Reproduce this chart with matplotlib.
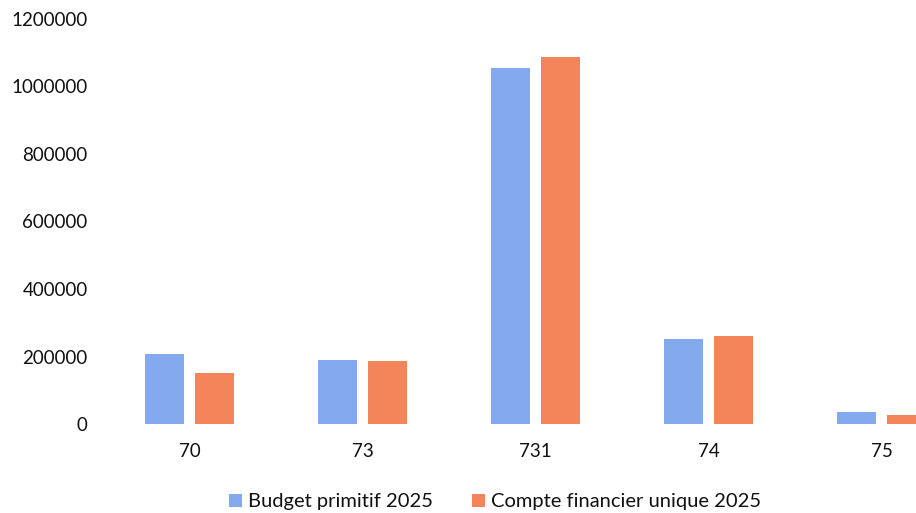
import numpy as np
import matplotlib
matplotlib.use('Agg')
import matplotlib.pyplot as plt

plt.rcParams['font.family'] = ['Lato', 'DejaVu Sans']

# données
categories = ['70', '73', '731', '74', '75']
budget_primitif = [208000, 190000, 1055000, 253000, 37000]
compte_financier = [150000, 187000, 1086000, 262000, 28000]
series_labels = ['Budget primitif 2025', 'Compte financier unique 2025']
yticks = [0, 200000, 400000, 600000, 800000, 1000000, 1200000]

W, H = 916, 513
fig = plt.figure(figsize=(W / 100, H / 100), dpi=100)
ax = fig.add_axes([103 / W, (H - 424) / H, 865 / W, 405 / H])

x = np.arange(len(categories))
bw = 0.23
ax.bar(x - 0.145, budget_primitif, bw, color='#84a9ee', label=series_labels[0])
ax.bar(x + 0.145, compte_financier, bw, color='#f4845a', label=series_labels[1])

ax.set_xlim(-0.5, len(categories) - 0.5)
ax.set_ylim(0, 1200000)
ax.set_xticks(x)
ax.set_xticklabels(categories)
ax.set_yticks(yticks)
ax.set_yticklabels([str(v) for v in yticks])
ax.tick_params(axis='both', length=0, labelsize=13.5, colors='#111111')
ax.tick_params(axis='x', pad=14)
ax.tick_params(axis='y', pad=11)
for s in ax.spines.values():
    s.set_visible(False)

fig.legend(loc='center', bbox_to_anchor=(495 / W, 11 / H), ncol=2,
           frameon=False, fontsize=14.5, handlelength=0.65, handleheight=0.65,
           handletextpad=0.3, columnspacing=1.9, labelcolor='#111111')

fig.savefig('out.png', dpi=100)
